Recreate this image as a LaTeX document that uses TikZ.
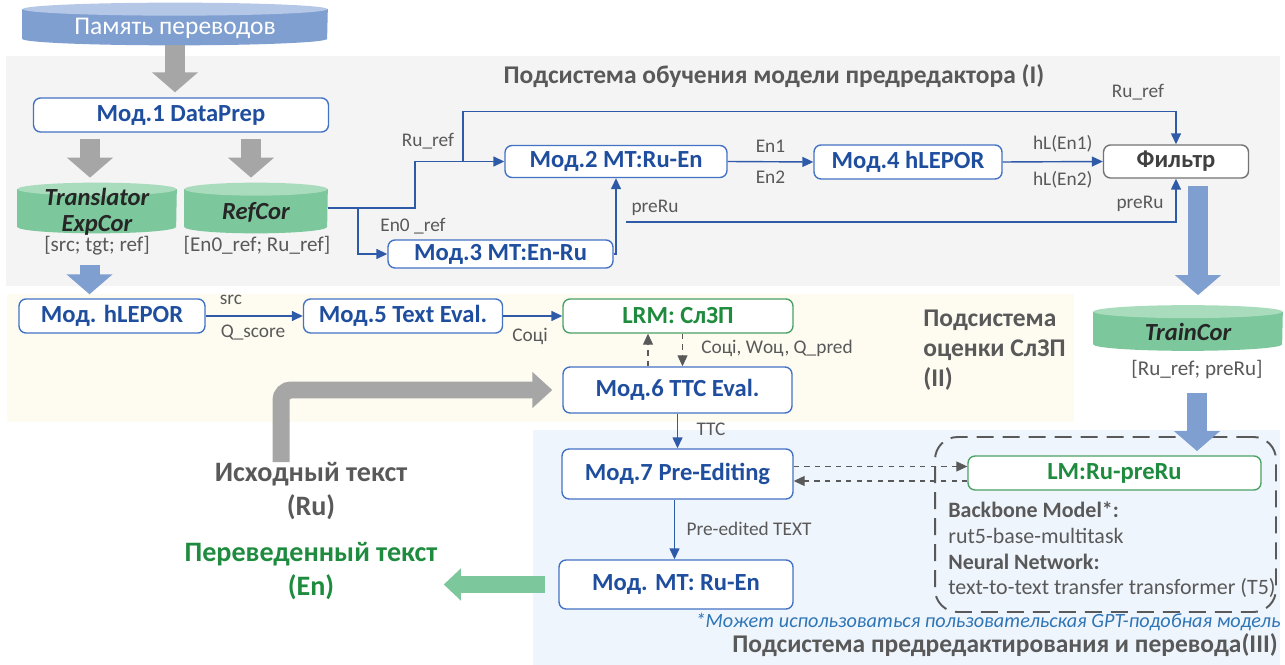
\documentclass[tikz,border=0pt]{standalone}
\usepackage{fontspec}
\setmainfont{Carlito}
\usetikzlibrary{shapes.geometric, arrows.meta, positioning, calc}
\definecolor{boxblue}{HTML}{4472C4}
\definecolor{textblue}{HTML}{1F4E9F}
\definecolor{lineblue}{HTML}{2F5AA8}
\definecolor{labelgray}{HTML}{595959}
\definecolor{arrowgray}{HTML}{A6A6A6}
\definecolor{dbblue}{HTML}{7F9FD1}
\definecolor{dbbluetop}{HTML}{B4C7E7}
\definecolor{dbgreen}{HTML}{7CC79B}
\definecolor{dbgreentop}{HTML}{A9DCBC}
\definecolor{okgreen}{HTML}{1E8B3E}
\definecolor{panelgray}{HTML}{F4F4F4}
\definecolor{panelcream}{HTML}{FEFBF0}
\definecolor{panelblue}{HTML}{EFF5FD}
\definecolor{noteblue}{HTML}{2E75B6}

\newcommand{\database}[7]{%
  \node[minimum width=#3, minimum height=#4, inner sep=0pt] (#1) at #2 {};
  \fill[#5] ([yshift=-0.13cm]#1.north west) -- ([yshift=0.13cm]#1.south west)
    arc[start angle=180, end angle=360, x radius=#3/2, y radius=0.13cm]
    -- ([yshift=-0.13cm]#1.north east) -- cycle;
  \fill[#6] ([yshift=-0.13cm]#1.north) ellipse[x radius=#3/2, y radius=0.13cm];
  \node[dbtext] (#1text) at ([yshift=-0.08cm]#1) {#7};
}

\begin{document}
\begin{tikzpicture}[x=0.02cm, y=-0.02cm,
  module/.style={rectangle, rounded corners=4pt, draw=boxblue, fill=white, line width=0.8pt, text=textblue, font=\fontsize{14}{16}\selectfont\bfseries, inner sep=0pt},
  greenmod/.style={module, draw=okgreen!80!white, text=okgreen},
  dbtext/.style={text=black!85, font=\fontsize{14}{14.5}\selectfont\bfseries\itshape, align=center, inner sep=0pt},
  flow/.style={draw=lineblue, line width=0.8pt, -{Triangle[length=2.2mm, width=2mm]}},
  hint/.style={draw=labelgray, dashed, line width=0.6pt, -{Triangle[length=2.2mm, width=2mm]}},
  lbl/.style={text=labelgray, font=\fontsize{11}{13}\selectfont, inner sep=0pt},
  tag/.style={lbl, font=\fontsize{12}{14}\selectfont},
  boxtext/.style={lbl, anchor=west, font=\fontsize{12.5}{14}\selectfont},
  bigdown/.style={line width=0.4cm, -{Triangle[length=0.4cm, width=0.9cm]}},
  heading/.style={text=labelgray, font=\fontsize{14.5}{17}\selectfont\bfseries, inner sep=0pt}
]
\useasboundingbox (0,0) rectangle (1285,665);
\fill[panelgray] (6,56) rectangle (1280,286);
\fill[panelcream] (7,294) rectangle (1074,422);
\fill[panelblue] (533,430) rectangle (1280,665);

\database{pamyat}{(175,24)}{6.1cm}{0.84cm}{dbblue}{dbbluetop}{\color{white}\mdseries\upshape\fontsize{14.5}{16}\selectfont Память переводов}
\node[module, minimum width=5.9cm, minimum height=0.68cm] (mod1) at (181,115) {Мод.1 DataPrep};
\database{expcor}{(97,208)}{3.18cm}{1cm}{dbgreen}{dbgreentop}{Translator\\ExpCor}
\database{refcor}{(256,208)}{2.86cm}{1cm}{dbgreen}{dbgreentop}{RefCor}
\node[tag] (exptag) at (97,246) {[src; tgt; ref]};
\node[tag] (reftag) at (257,245) {[En0\_ref; Ru\_ref]};

\node[heading] (titlei) at (774,76) {Подсистема обучения модели предредактора (I)};
\node[module, minimum width=4.44cm, minimum height=0.64cm] (mod2) at (616,161.5) {Мод.2 MT:Ru-En};
\node[module, minimum width=4.5cm, minimum height=0.56cm] (mod3) at (500.5,254) {Мод.3 MT:En-Ru};
\node[module, minimum width=3.76cm, minimum height=0.68cm] (mod4) at (908,162) {Мод.4 hLEPOR};
\node[module, draw=black!55, text=black!75, minimum width=2.9cm, minimum height=0.66cm] (filtr) at (1176,161.5) {Фильтр};

\coordinate (rubranch) at (463,161.5);
\coordinate (prestart) at (626,222);
\draw[flow] (refcor.east) -- ++(87,0) |- (mod2.west);
\draw[flow] (refcor.east) -- ++(30,0) |- (mod3.west);
\draw[flow] (rubranch) -- ++(0,-50) -| (filtr.north);
\draw[flow] (mod3.east) -| (mod2.south);
\draw[flow] (prestart) -| (filtr.south);
\draw[flow] (mod2.east) -- (mod4.west) node[lbl, midway, above=5pt] {En1} node[lbl, midway, below=5pt] {En2};
\draw[flow] (mod4.east) -- (filtr.west) node[lbl, pos=0.6, above=5pt] {hL(En1)} node[lbl, pos=0.6, below=5pt] {hL(En2)};
\node[lbl] at (428,141) {Ru\_ref};
\node[lbl] at (1138,92) {Ru\_ref};
\node[lbl] at (413,226) {En0 \_ref};
\node[lbl] at (655,208) {preRu};
\node[lbl] at (1140,204) {preRu};

\node[module, minimum width=3.72cm, minimum height=0.68cm] (hlepor) at (112,316) {Мод. hLEPOR};
\node[module, minimum width=3.98cm, minimum height=0.68cm] (mod5) at (403,316) {Мод.5 Text Eval.};
\node[greenmod, minimum width=4.6cm, minimum height=0.68cm] (lrm) at (678,316) {LRM: СлЗП};
\node[module, minimum width=4.58cm, minimum height=0.92cm] (mod6) at (677.5,390) {Мод.6 TTC Eval.};
\node[heading, align=left, anchor=west] (titleii) at (923,350) {Подсистема\\оценки СлЗП\\(II)};
\draw[flow] (hlepor.east) -- (mod5.west);
\draw[flow] (mod5.east) -- (lrm.west);
\node[lbl] at (231,300) {src};
\node[lbl] at (253,333) {Q\_score};
\node[lbl] at (530,336) {Соцi};
\draw[hint] ([xshift=-0.59cm]mod6.north) -- ([xshift=-0.59cm]mod6.north |- lrm.south);
\draw[hint] ([xshift=0.09cm]lrm.south) -- ([xshift=0.09cm]lrm.south |- mod6.north);
\node[lbl] at (777,348) {Соцi, Wоц, Q\_pred};

\database{traincor}{(1188,328)}{3.78cm}{0.9cm}{dbgreen}{dbgreentop}{TrainCor}
\node[tag] (traintag) at (1197,370) {[Ru\_ref; preRu]};
\draw[bigdown, dbblue, shorten <=0.14cm, shorten >=0.2cm] ([xshift=0.44cm]filtr.south) -- ([xshift=0.44cm]filtr.south |- traincor.north);
\draw[bigdown, dbblue, shorten <=0.18cm, shorten >=0.08cm] ([xshift=-0.15cm]exptag.south) -- ([xshift=-0.15cm]exptag.south |- hlepor.north);

\draw[bigdown, arrowgray, shorten >=0.1cm] (pamyat.south) -- (pamyat.south |- mod1.north);
\draw[bigdown, arrowgray, shorten <=0.12cm, shorten >=0.1cm] ([xshift=-0.14cm]expcor.north |- mod1.south) -- ([xshift=-0.14cm]expcor.north);
\draw[bigdown, arrowgray, shorten <=0.12cm, shorten >=0.1cm] ([xshift=-0.1cm]refcor.north |- mod1.south) -- ([xshift=-0.1cm]refcor.north);

\node[module, minimum width=4.62cm, minimum height=1cm] (mod7) at (677.5,474) {Мод.7 Pre-Editing};
\node[module, minimum width=4.68cm, minimum height=0.98cm] (mtruen) at (676,584.5) {Мод. MT: Ru-En};
\draw[flow] (mod6) -- (mod7);
\draw[flow] ([xshift=-0.06cm]mod7.south) -- ([xshift=-0.06cm]mod7.south |- mtruen.north);
\node[lbl] at (711,429) {TTC};
\node[lbl] at (749,529) {Pre-edited TEXT};

\node[draw=labelgray, line width=1.1pt, dash pattern=on 0.34cm off 0.18cm, rounded corners=0.45cm, minimum width=6.82cm, minimum height=3.5cm] (lmgroup) at (1105.5,524.5) {};
\node[greenmod, minimum width=5.86cm, minimum height=0.68cm] (lm) at (1114.5,473) {LM:Ru-preRu};
\draw[hint] ([yshift=0.15cm]mod7.east) -- ([yshift=0.15cm]mod7.east -| lm.west);
\draw[hint] ([yshift=-0.16cm]lm.west) -- ([yshift=-0.16cm]lm.west -| mod7.east);
\node[boxtext, font=\fontsize{12.5}{14}\selectfont\bfseries] (bbhead) at (948,510) {Backbone Model*:};
\node[boxtext] (bbname) at (948,536) {rut5-base-multitask};
\node[boxtext, font=\fontsize{12.5}{14}\selectfont\bfseries] (nnhead) at (948,562) {Neural Network:};
\node[boxtext] (nnname) at (948,588) {text-to-text transfer transformer (T5)};
\draw[bigdown, dbblue, shorten <=0.26cm] (traintag.south) -- ([yshift=-0.3cm]traintag.south |- lmgroup.north);

\node[lbl, text=noteblue, font=\fontsize{11.5}{13}\selectfont\itshape] (note) at (988,622) {*Может использоваться пользовательская GPT-подобная модель};
\node[heading] (titleiii) at (1005,645) {Подсистема предредактирования и перевода(III)};

\node[heading, align=center, font=\fontsize{16}{19}\selectfont\bfseries] (srctext) at (311,491) {Исходный текст\\(Ru)};
\node[heading, align=center, text=okgreen, font=\fontsize{16}{19}\selectfont\bfseries] (entext) at (311,571) {Переведенный текст\\(En)};
\draw[arrowgray, line width=0.34cm, rounded corners=0.2cm, -{Triangle[length=0.4cm, width=0.7cm]}] ([xshift=-0.6cm]srctext.north) |- ([xshift=-0.2cm]mod6.west);
\draw[dbgreen, line width=0.36cm, -{Triangle[length=0.34cm, width=0.62cm]}] ([xshift=-0.26cm]mtruen.west) -- ([xshift=0.12cm]entext.east |- mtruen.west);
\end{tikzpicture}
\end{document}
